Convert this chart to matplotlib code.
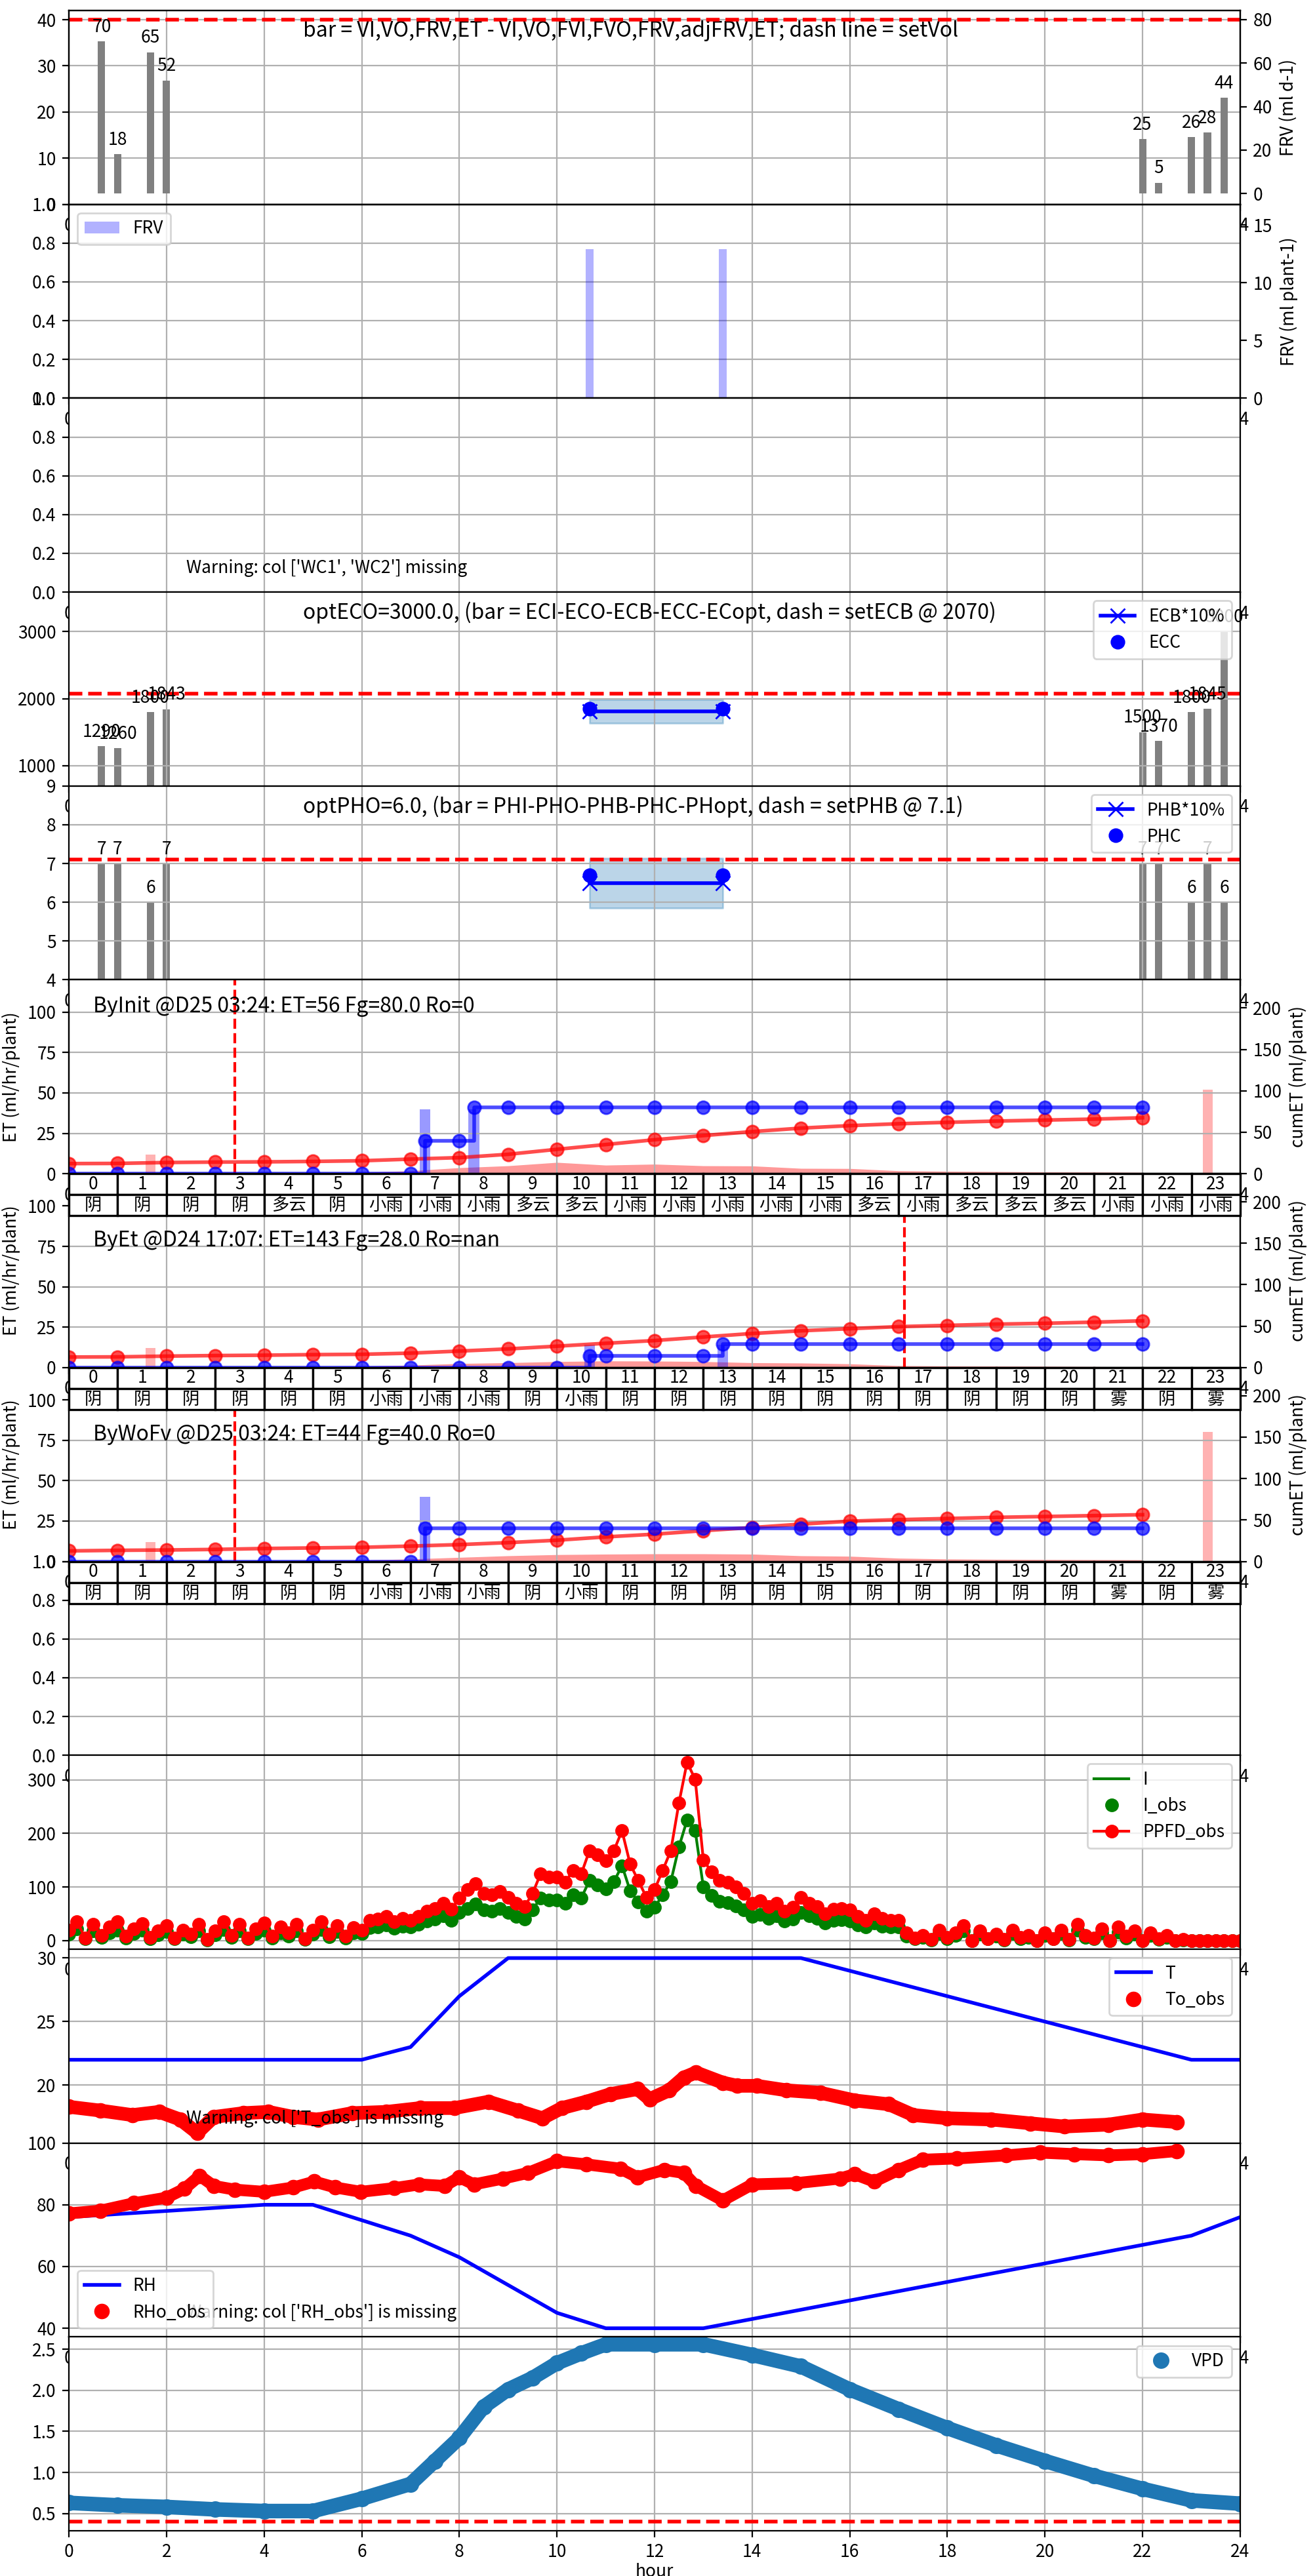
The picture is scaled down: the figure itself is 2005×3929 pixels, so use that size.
import matplotlib
matplotlib.use('Agg')
import matplotlib.pyplot as plt
import numpy as np

plt.rcParams['font.family'] = ['Noto Sans CJK SC', 'DejaVu Sans']
plt.rcParams['axes.unicode_minus'] = False
plt.rcParams['font.size'] = 9.5

# ---------------- data ----------------
# irrigation events (hours) and daily volume bars
bar_t = [0.67, 1.0, 1.67, 2.0, 22.0, 22.33, 23.0, 23.33, 23.67]
frv_day = [70, 18, 65, 52, 25, 5, 26, 28, 44]
set_vol = 80
ec_bar = [1290, 1260, 1800, 1843, 1500, 1370, 1800, 1845, 3000]
set_ecb = 2070
ph_bar = [7, 7, 6, 7, 7, 7, 6, 7, 6]
set_phb = 7.1

# fertigation window
frv_t = [10.67, 13.4]
frv_plant = [12.9, 12.9]
ecb_line = [1805, 1805]
ecc_pts = [1850, 1850]
ec_band = [1630, 1990]
phb_line = [6.5, 6.5]
phc_pts = [6.7, 6.7]
ph_band = [5.85, 7.13]

# ET panels
hrs = list(range(23))
et_init = [0, 0, 0, 0, 0, 0.3, 0.8, 1.8, 3.7, 4.9, 7.0, 5.3, 5.9, 4.9, 4.8, 3.3, 3.2, 1.8, 1.5, 1.3, 1.1, 1.0, 0.8]
cum_init = [12.2, 12.4, 13.5, 14.0, 14.3, 14.8, 15.6, 17.6, 19.4, 23.4, 29.4, 35.2, 41.0, 46.0, 50.8, 55.0,
            58.0, 60.3, 62.0, 63.5, 64.7, 65.9, 67.5]
irr_init_t = [0, 1, 2, 3, 4, 5, 6, 7, 7.3, 8, 8.3, 9, 10, 11, 12, 13, 14, 15, 16, 17, 18, 19, 20, 21, 22]
irr_init = [0, 0, 0, 0, 0, 0, 0, 0, 40, 40, 80, 80, 80, 80, 80, 80, 80, 80, 80, 80, 80, 80, 80, 80, 80]
fv_init_t = [7.3, 8.3]
fv_init = [40, 40]
dr_init_t = [1.67, 23.33]
dr_init = [12, 52]
wx_init = ['阴', '阴', '阴', '阴', '多云', '阴', '小雨', '小雨', '小雨', '多云', '多云', '小雨',
           '小雨', '小雨', '小雨', '小雨', '多云', '小雨', '多云', '多云', '多云', '小雨', '小雨', '小雨']

et_et = [0, 0, 0, 0, 0, 0.3, 0.8, 1.5, 2.5, 3.0, 3.7, 4.1, 4.0, 3.7, 3.0, 2.8, 2.3, 1.2, 1.0, 0.9, 0.8, 0.6, 0.4]
cum_et = [12.7, 12.9, 13.8, 14.5, 14.9, 15.6, 16.0, 17.4, 19.9, 22.5, 25.8, 29.3, 32.6, 36.9, 41.1, 44.4,
          46.9, 49.4, 50.9, 52.4, 53.4, 54.8, 56.4]
irr_et_t = [0, 1, 2, 3, 4, 5, 6, 7, 8, 9, 10, 10.67, 11, 12, 13, 13.4, 14, 15, 16, 17, 18, 19, 20, 21, 22]
irr_et = [0, 0, 0, 0, 0, 0, 0, 0, 0, 0, 0, 14, 14, 14, 14, 28, 28, 28, 28, 28, 28, 28, 28, 28, 28]
fv_et_t = [10.67, 13.4]
fv_et = [14, 14]
dr_et_t = [1.67]
dr_et = [12]
wx_et = ['阴', '阴', '阴', '阴', '阴', '阴', '小雨', '小雨', '小雨', '阴', '小雨', '阴',
         '阴', '阴', '阴', '阴', '阴', '阴', '阴', '阴', '阴', '雾', '阴', '雾']

et_wofv = [0, 0, 0, 0, 0, 0.3, 0.8, 1.5, 2.5, 3.5, 4.2, 4.5, 4.7, 4.7, 4.5, 3.5, 3.2, 2.0, 1.5, 1.3, 1.2, 1.1, 1.0]
cum_wofv = [12.7, 13.4, 13.8, 14.5, 15.6, 16.3, 17.0, 18.5, 20.3, 22.7, 25.6, 29.6, 32.9, 37.1, 40.9, 45.0,
            48.6, 50.4, 51.8, 53.2, 54.2, 55.3, 56.4]
irr_wofv_t = [0, 1, 2, 3, 4, 5, 6, 7, 7.3, 8, 9, 10, 11, 12, 13, 14, 15, 16, 17, 18, 19, 20, 21, 22]
irr_wofv = [0, 0, 0, 0, 0, 0, 0, 0, 40, 40, 40, 40, 40, 40, 40, 40, 40, 40, 40, 40, 40, 40, 40, 40]
fv_wofv_t = [7.3]
fv_wofv = [40]
dr_wofv_t = [1.67, 23.33]
dr_wofv = [12, 80]
wx_wofv = wx_et

# light, 10-minute readings
ppfd_obs = [20, 35, 5, 30, 10, 25, 35, 8, 22, 32, 6, 18, 28, 5, 20, 12, 30, 2,
            18, 35, 10, 30, 5, 22, 33, 8, 25, 14, 30, 4, 20, 35, 12, 28, 8, 24,
            20, 38, 40, 45, 35, 42, 38, 45, 55, 60, 70, 58, 80, 95, 106, 88, 85, 92,
            81, 70, 63, 88, 125, 118, 118, 109, 131, 125, 168, 160, 149, 168, 205, 143, 112, 81,
            95, 131, 168, 257, 333, 301, 151, 128, 112, 109, 100, 88, 69, 75, 63, 70, 55, 62,
            81, 70, 63, 50, 58, 60, 57, 45, 38, 50, 42, 38, 38, 14, 5, 10, 2, 20,
            6, 15, 28, 0, 18, 4, 12, 2, 20, 6, 10, 0, 15, 4, 20, 2, 30, 10,
            5, 22, 0, 25, 8, 18, 0, 15, 3, 10, 0, 2, 0, 0, 0, 0, 0, 0, 0]
i_obs = [12, 22, 3, 18, 6, 15, 20, 5, 13, 19, 4, 11, 17, 3, 12, 7, 18, 1,
         11, 21, 6, 18, 3, 13, 20, 5, 15, 8, 18, 2, 12, 21, 7, 17, 5, 14,
         13, 24, 26, 29, 23, 27, 25, 30, 36, 40, 46, 38, 52, 60, 68, 57, 55, 60,
         52, 45, 40, 57, 80, 76, 76, 70, 85, 80, 112, 104, 96, 110, 140, 93, 72, 55,
         62, 85, 110, 175, 225, 205, 100, 84, 73, 71, 65, 57, 45, 49, 41, 46, 36, 40,
         53, 46, 41, 33, 38, 39, 37, 29, 25, 33, 27, 25, 25, 9, 3, 6, 1, 13,
         4, 10, 18, 0, 12, 3, 8, 1, 13, 4, 6, 0, 10, 3, 13, 1, 19, 6,
         3, 14, 0, 16, 5, 12, 0, 10, 2, 6, 0, 1, 0, 0, 0, 0, 0, 0, 0]

# temperature
t_hr = list(range(25))
t_set = [22, 22, 22, 22, 22, 22, 22, 23, 27, 30, 30, 30, 30, 30, 30, 30, 29, 28, 27, 26, 25, 24, 23, 22, 22]
to_t = [0, 0.65, 1.3, 1.85, 2.28, 2.63, 2.97, 3.57, 4.09, 4.6, 5.1, 5.8, 6.5, 7.2, 7.9, 8.6, 9.2, 9.7,
        10.1, 10.6, 11.1, 11.65, 11.9, 12.3, 12.6, 12.85, 13.4, 13.7, 14.1, 14.7, 15.4, 16.1, 16.8,
        17.3, 18.0, 18.9, 19.7, 20.4, 21.3, 22.0, 22.7]
to_obs = [18.3, 18.0, 17.65, 17.9, 17.3, 16.25, 17.5, 17.8, 17.9, 17.5, 17.3, 17.8, 17.9, 18.2, 18.2,
          18.7, 18.0, 17.4, 18.2, 18.7, 19.3, 19.7, 18.9, 19.6, 20.6, 21.0, 20.2, 19.95, 19.95, 19.6,
          19.4, 18.8, 18.5, 17.65, 17.4, 17.3, 17.0, 16.75, 16.9, 17.3, 17.1]

# humidity
rh_set = [76, 77, 78, 79, 80, 80, 75, 70, 63, 54, 45, 40, 40, 40, 43, 46, 49, 52, 55, 58, 61, 64, 67, 70, 76]
rho_t = [0, 0.65, 1.33, 2.0, 2.37, 2.68, 2.97, 3.4, 4.0, 4.6, 5.03, 5.46, 5.98, 6.67, 7.18, 7.7, 8.0,
         8.3, 8.9, 9.4, 10.0, 10.6, 11.3, 11.65, 12.2, 12.6, 12.85, 13.4, 14.0, 14.9, 15.8, 16.1,
         16.5, 17.0, 17.5, 18.2, 19.2, 19.9, 20.6, 21.3, 22.0, 22.7]
rho_obs = [77.2, 78.1, 80.5, 82.3, 85.2, 89.4, 86.1, 84.9, 84.2, 85.6, 87.5, 85.6, 84.2, 85.4, 86.6,
           86.1, 88.9, 86.6, 88.5, 90.3, 94.1, 93.1, 91.7, 88.9, 91.3, 90.3, 86.1, 81.4, 86.6, 87.0,
           88.5, 89.9, 87.5, 91.3, 94.6, 95.0, 96.0, 96.9, 96.4, 96.0, 96.4, 97.4]

# vapour pressure deficit
vpd_t = [0, 1, 2, 3, 4, 5, 6, 7, 7.5, 8, 8.5, 9, 9.5, 10, 10.5, 11, 12, 13, 14, 15, 16, 17, 18,
         19, 20, 21, 22, 23, 24]
vpd = [0.63, 0.60, 0.58, 0.55, 0.53, 0.53, 0.68, 0.86, 1.14, 1.42, 1.80, 2.01, 2.15, 2.33, 2.45,
       2.56, 2.56, 2.56, 2.43, 2.29, 2.01, 1.77, 1.54, 1.33, 1.14, 0.96, 0.80, 0.66, 0.62]
set_vpd = 0.4

TXT = 11.5


def ET_PANEL(ax, tw, txt, txt_y, vline, et, cum, irr_t, irr, fv_t, fv, dr_t, dr, wx):
    ax.fill_between(hrs, 0, et, color='red', alpha=0.4, lw=0)
    ax.bar(fv_t, fv, width=0.22, color='blue', alpha=0.4)
    ax.bar(dr_t, dr, width=0.2, color='red', alpha=0.3)
    ax.axvline(vline, color='red', ls='--', lw=1.5)
    ax.set_ylim(0, 120)
    ax.set_yticks([0, 25, 50, 75, 100])
    ax.set_ylabel('ET (ml/hr/plant)')
    ax.text(0.5, txt_y, txt, fontsize=TXT)
    tw.plot(hrs, cum, 'o-', color='red', alpha=0.7, lw=2, ms=7)
    tw.plot(irr_t, irr, 'o-', color='blue', alpha=0.7, lw=2, ms=7, drawstyle='steps-post')
    tw.set_ylim(0, 234)
    tw.set_yticks([0, 50, 100, 150, 200])
    tw.set_ylabel('cumET (ml/plant)')
    tb = ax.table(cellText=[[str(h) for h in range(24)], wx], cellLoc='center',
                  bbox=[0, -0.217, 1, 0.217])
    tb.auto_set_font_size(False)
    tb.set_fontsize(9.5)
    for c in tb.get_celld().values():
        c.set_linewidth(1.2)
    tb.set_zorder(5)


fig = plt.figure(figsize=(10.025, 19.645), dpi=200)
gs = fig.add_gridspec(13, 1, left=0.0524, right=0.9431, top=0.99593, bottom=0.01756, hspace=0)
axs = []
for i in range(13):
    axs.append(fig.add_subplot(gs[i], sharex=axs[0] if axs else None))
for ax in axs:
    ax.grid(True)
axs[0].set_xlim(0, 24)
axs[0].set_xticks(range(0, 25, 2))

# ET panels go on top so their tables overlap the next panel
axs[5].set_zorder(4)
axs[6].set_zorder(3)
axs[7].set_zorder(2)

tw1 = axs[0].twinx()
tw2 = axs[1].twinx()
tw6 = axs[5].twinx()
tw6.set_zorder(4)
tw7 = axs[6].twinx()
tw7.set_zorder(3)
tw8 = axs[7].twinx()
tw8.set_zorder(2)

# panel 1: daily volume
axs[0].set_ylim(0, 42)
axs[0].set_yticks([0, 10, 20, 30, 40])
tw1.bar(bar_t, frv_day, width=0.15, color='gray')
for x, v in zip(bar_t, frv_day):
    tw1.annotate(str(v), (x, v), xytext=(0, 3), textcoords='offset points', ha='center', va='bottom')
tw1.axhline(set_vol, color='red', ls='--', lw=2)
tw1.set_ylim(-5, 84.2)
tw1.set_ylabel('FRV (ml d-1)')
axs[0].text(0.2, 0.95, 'bar = VI,VO,FRV,ET - VI,VO,FVI,FVO,FRV,adjFRV,ET; dash line = setVol',
            transform=axs[0].transAxes, va='top', fontsize=TXT)

# panel 2: FRV per plant
axs[1].set_ylim(0, 1)
tw2.bar(frv_t, frv_plant, width=0.17, color='blue', alpha=0.3, label='FRV')
tw2.set_ylim(0, 16.8)
tw2.set_yticks([0, 5, 10, 15])
tw2.set_ylabel('FRV (ml plant-1)')
tw2.legend(loc='upper left')

# panel 3: missing water content
axs[2].set_ylim(0, 1)
axs[2].text(0.1, 0.1, "Warning: col ['WC1', 'WC2'] missing", transform=axs[2].transAxes)

# panel 4: EC
ax = axs[3]
ax.bar(bar_t, ec_bar, width=0.15, color='gray')
for x, v in zip(bar_t, ec_bar):
    ax.annotate(str(v), (x, v), xytext=(0, 3), textcoords='offset points', ha='center', va='bottom')
ax.axhline(set_ecb, color='red', ls='--', lw=2)
ax.fill_between(frv_t, ec_band[0], ec_band[1], color='C0', alpha=0.3)
ax.plot(frv_t, ecb_line, 'b-x', ms=8, lw=2, label='ECB*10%')
ax.plot(frv_t, ecc_pts, 'bo', ms=7, label='ECC')
ax.set_ylim(696, 3590)
ax.set_yticks([1000, 2000, 3000])
ax.text(0.2, 0.95, 'optECO=3000.0, (bar = ECI-ECO-ECB-ECC-ECopt, dash = setECB @ 2070)',
        transform=ax.transAxes, va='top', fontsize=TXT)
ax.legend(loc='upper right')

# panel 5: pH
ax = axs[4]
ax.bar(bar_t, ph_bar, width=0.15, color='gray')
for x, v in zip(bar_t, ph_bar):
    ax.annotate(str(v), (x, v), xytext=(0, 3), textcoords='offset points', ha='center', va='bottom')
ax.axhline(set_phb, color='red', ls='--', lw=2)
ax.fill_between(frv_t, ph_band[0], ph_band[1], color='C0', alpha=0.3)
ax.plot(frv_t, phb_line, 'b-x', ms=8, lw=2, label='PHB*10%')
ax.plot(frv_t, phc_pts, 'bo', ms=7, label='PHC')
ax.set_ylim(4, 9)
ax.text(0.2, 0.95, 'optPHO=6.0, (bar = PHI-PHO-PHB-PHC-PHopt, dash = setPHB @ 7.1)',
        transform=ax.transAxes, va='top', fontsize=TXT)
ax.legend(loc='upper right')

# panels 6-8: ET
ET_PANEL(axs[5], tw6, 'ByInit @D25 03:24: ET=56 Fg=80.0 Ro=0', 100, 3.4,
         et_init, cum_init, irr_init_t, irr_init, fv_init_t, fv_init, dr_init_t, dr_init, wx_init)
ET_PANEL(axs[6], tw7, 'ByEt @D24 17:07: ET=143 Fg=28.0 Ro=nan', 75, 17.12,
         et_et, cum_et, irr_et_t, irr_et, fv_et_t, fv_et, dr_et_t, dr_et, wx_et)
ET_PANEL(axs[7], tw8, 'ByWoFv @D25 03:24: ET=44 Fg=40.0 Ro=0', 75, 3.4,
         et_wofv, cum_wofv, irr_wofv_t, irr_wofv, fv_wofv_t, fv_wofv, dr_wofv_t, dr_wofv, wx_wofv)

# panel 9: empty
axs[8].set_ylim(0, 1)

# panel 10: light
ax = axs[9]
t10 = np.arange(len(ppfd_obs)) / 6.0
ax.plot(t10, i_obs, '-', color='green', lw=1.5, label='I')
ax.plot(t10, i_obs, 'o', color='green', ms=6.5, label='I_obs')
ax.plot(t10, ppfd_obs, 'o-', color='red', ms=6.5, lw=1.5, label='PPFD_obs')
ax.set_ylim(-16, 346)
ax.set_yticks([0, 100, 200, 300])
ax.legend(loc='upper right')

# panel 11: temperature
ax = axs[10]
ax.plot(t_hr, t_set, '-', color='blue', lw=2, label='T')
ax.plot(to_t, to_obs, '-', color='red', lw=7.5, solid_capstyle='round')
ax.plot(to_t, to_obs, 'o', color='red', ms=7.5, label='To_obs')
ax.set_ylim(15.45, 30.7)
ax.set_yticks([20, 25, 30])
ax.text(0.1, 0.1, "Warning: col ['T_obs'] is missing", transform=ax.transAxes)
ax.legend(loc='upper right')

# panel 12: humidity
ax = axs[11]
ax.plot(t_hr, rh_set, '-', color='blue', lw=2, label='RH')
ax.plot(rho_t, rho_obs, '-', color='red', lw=6.5, solid_capstyle='round')
ax.plot(rho_t, rho_obs, 'o', color='red', ms=7.5, label='RHo_obs')
ax.set_ylim(37.2, 100)
ax.set_yticks([40, 60, 80, 100])
ax.text(0.1, 0.1, "Warning: col ['RH_obs'] is missing", transform=ax.transAxes)
ax.legend(loc='lower left')

# panel 13: VPD
ax = axs[12]
ax.plot(vpd_t, vpd, '-', color='C0', lw=8, solid_capstyle='round')
ax.plot(vpd_t, vpd, 'o', color='C0', ms=8, label='VPD')
ax.axhline(set_vpd, color='red', ls='--', lw=2)
ax.set_ylim(0.29, 2.65)
ax.set_yticks([0.5, 1.0, 1.5, 2.0, 2.5])
ax.set_xlabel('hour', labelpad=1)
ax.legend(loc='upper right')

fig.savefig('out.png', dpi=200)
